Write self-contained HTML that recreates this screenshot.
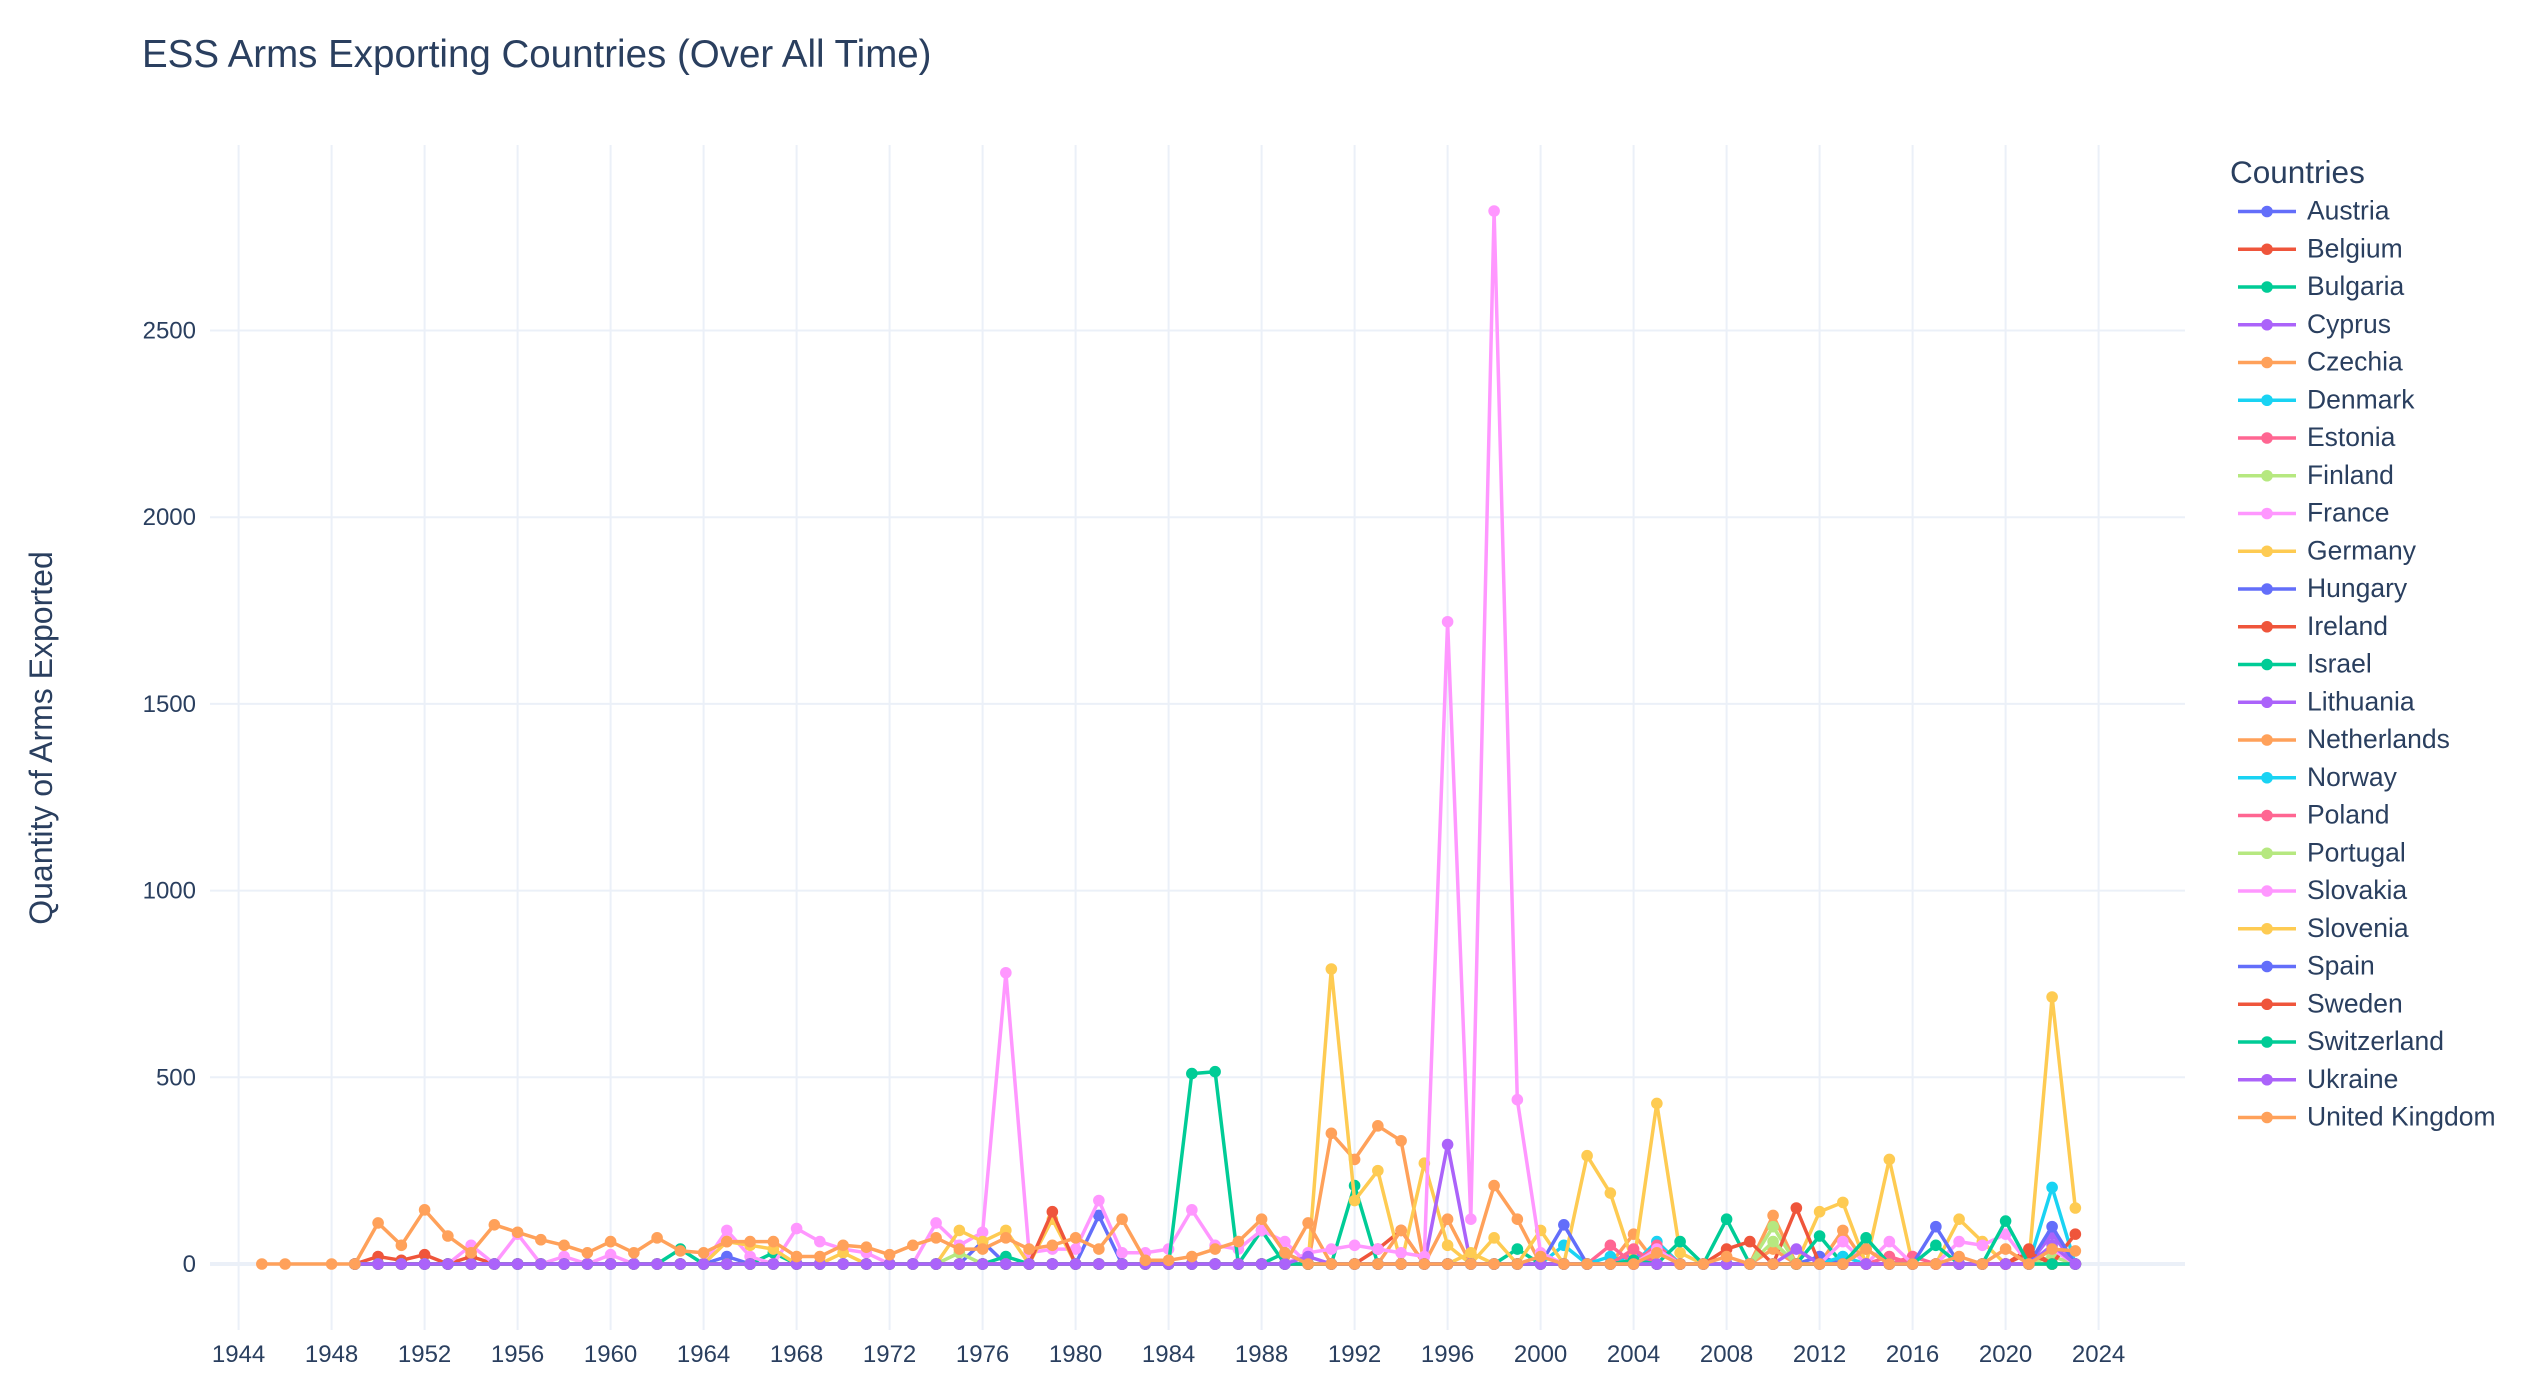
<!DOCTYPE html>
<html><head><meta charset="utf-8"><style>
body{margin:0;background:#fff;}
svg text{font-family:"Liberation Sans",Arial,sans-serif;fill:#2a3f5f;}
</style></head><body>
<svg id="chart" width="2528" height="1390" xmlns="http://www.w3.org/2000/svg">
<rect width="2528" height="1390" fill="#fff"/>
<text x="142" y="67" font-size="38.5">ESS Arms Exporting Countries (Over All Time)</text>
<text transform="translate(52,738) rotate(-90)" text-anchor="middle" font-size="32">Quantity of Arms Exported</text>
<g id="grid"></g>
<g id="series"></g>
<g id="legend">
<text x="2230" y="183" font-size="31.5">Countries</text>
</g>
</svg>
<script>
const countries = ["Austria","Belgium","Bulgaria","Cyprus","Czechia","Denmark","Estonia","Finland","France","Germany","Hungary","Ireland","Israel","Lithuania","Netherlands","Norway","Poland","Portugal","Slovakia","Slovenia","Spain","Sweden","Switzerland","Ukraine","United Kingdom"];
const colors = ["#636efa","#EF553B","#00cc96","#ab63fa","#FFA15A","#19d3f3","#FF6692","#B6E880","#FF97FF","#FECB52"];
const xTicks = [1944,1948,1952,1956,1960,1964,1968,1972,1976,1980,1984,1988,1992,1996,2000,2004,2008,2012,2016,2020,2024];
const yTicks = [0,500,1000,1500,2000,2500];
// sparse values per country (year: quantity), unlisted years = 0
const austria = {1965:20,1976:60,1981:130};
const belgium = {1950:20,1951:10,1952:25,1954:20,1993:40,1994:90};
const bulgaria = {1963:40,1967:30,1977:20,1988:90,1992:210,1999:40};
const cyprus = {2004:30};
const czechia = {1991:350,1992:280,1993:370,1994:330,1996:120,1998:210,1999:120,2004:80,2010:130,2013:90};
const denmark = {2001:50,2005:60,2022:205};
const estonia = {2003:50,2005:50,2015:20};
const finland = {1975:30,2010:100,2022:20};
const france = {1954:50,1956:80,1958:20,1960:25,1965:90,1966:20,1968:95,1969:60,1970:40,1971:30,1974:110,1975:50,1976:85,1977:780,1978:30,1979:40,1980:40,1981:170,1982:30,1983:30,1984:40,1985:145,1986:50,1987:40,1988:90,1989:60};
const germany = {1965:60,1966:50,1967:40,1970:30,1975:90,1976:60,1977:90,1979:120,1991:790,1992:170,1993:250,1995:270,1996:50,1998:70,2000:90,2002:290,2003:190,2005:430,2006:30,2012:140,2013:165,2015:280,2018:120,2019:60,2022:715,2023:150};
const hungary = {2001:105,2012:20};
const ireland = {1979:140,2011:150,2021:40,2023:80};
const israel = {1985:510,1986:515,1989:30,2006:60,2008:120,2012:75};
const lithuania = {1996:320,2022:80};
const netherlands = {1990:110,1994:90,2010:40};
const norway = {2003:20,2013:20};
const poland = {2004:40,2016:20};
const portugal = {2010:60};
const slovakia = {1990:30,1991:40,1992:50,1993:40,1994:30,1995:20,1996:1720,1997:120,1998:2820,1999:440,2000:30,2005:40,2013:60,2015:60,2018:60,2019:50,2020:80,2022:40};
const slovenia = {1997:30,2014:40};
const spain = {2017:100,2022:100};
const sweden = {2008:40,2009:60,2021:30};
const switzerland = {2014:70,2017:50,2020:115,2004:10};
const ukraine = {1990:20,2011:40,2022:50};
const unitedKingdom = {1945:0,1946:0,1948:0,1949:0,1950:110,1951:50,1952:145,1953:75,1954:30,1955:105,1956:85,1957:65,1958:50,1959:30,1960:60,1961:30,1962:70,1963:35,1964:30,1965:60,1966:60,1967:60,1968:20,1969:20,1970:50,1971:45,1972:25,1973:50,1974:70,1975:40,1976:40,1977:70,1978:40,1979:50,1980:70,1981:40,1982:120,1983:10,1984:10,1985:20,1986:40,1987:60,1988:120,1989:30,2000:20,2005:30,2008:20,2014:40,2018:20,2020:40,2022:40,2023:35};
const seriesData = [austria,belgium,bulgaria,cyprus,czechia,denmark,estonia,finland,france,germany,hungary,ireland,israel,lithuania,netherlands,norway,poland,portugal,slovakia,slovenia,spain,sweden,switzerland,ukraine,unitedKingdom];

const NS="http://www.w3.org/2000/svg";
const X0=238.6, XS=23.25, Y0=1264, YS=0.3734;
function xPos(yr){return X0+(yr-1944)*XS;}
function yPos(v){return Y0-v*YS;}
function mk(tag,attrs,parent){const e=document.createElementNS(NS,tag);for(const k in attrs)e.setAttribute(k,attrs[k]);parent.appendChild(e);return e;}
const grid=document.getElementById('grid');
xTicks.forEach(t=>{
  const l=mk('line',{x1:xPos(t),x2:xPos(t),y1:145,y2:1330,stroke:'#EBF0F8','stroke-width':2},grid);
  
  
  const tx=mk('text',{x:xPos(t),y:1362,'text-anchor':'middle','font-size':24},grid);
  tx.textContent=t;
  
  
});
yTicks.forEach(t=>{
  const l=mk('line',{x1:210,x2:2185,y1:yPos(t),y2:yPos(t),stroke:'#EBF0F8','stroke-width':t===0?4:2},grid);
  
  
  const tx=mk('text',{x:196,y:yPos(t)+8,'text-anchor':'end','font-size':24},grid);
  tx.textContent=t;
  
  
});
const sg=document.getElementById('series');
seriesData.forEach((d,i)=>{
  const c=colors[i%10];
  const start = i===24?1945:1949;
  const yrs=[];
  for(let y=start;y<=2023;y++){ if(i===24 && y===1947) continue; yrs.push(y);}
  const g=mk('g',{},sg);
  
  
  const pts=yrs.map(y=>xPos(y).toFixed(1)+','+yPos(d[y]||0).toFixed(1)).join(' ');
  const pl=mk('polyline',{points:pts,fill:'none',stroke:c,'stroke-width':3.5,'stroke-linejoin':'round'},g);
  
  
  yrs.forEach(y=>{
    const ci=mk('circle',{cx:xPos(y),cy:yPos(d[y]||0),r:5.8,fill:c},g);
    
    
  });
});
const lg=document.getElementById('legend');
countries.forEach((n,i)=>{
  const y=211.5+i*37.75, c=colors[i%10];
  const g=mk('g',{},lg);
  
  
  mk('line',{x1:2238,x2:2296,y1:y,y2:y,stroke:c,'stroke-width':3.5},g);
  mk('circle',{cx:2267,cy:y,r:5.8,fill:c},g);
  const t=mk('text',{x:2307,y:y+8,'font-size':26.5},g);
  t.textContent=n;
});
</script>
</body></html>
